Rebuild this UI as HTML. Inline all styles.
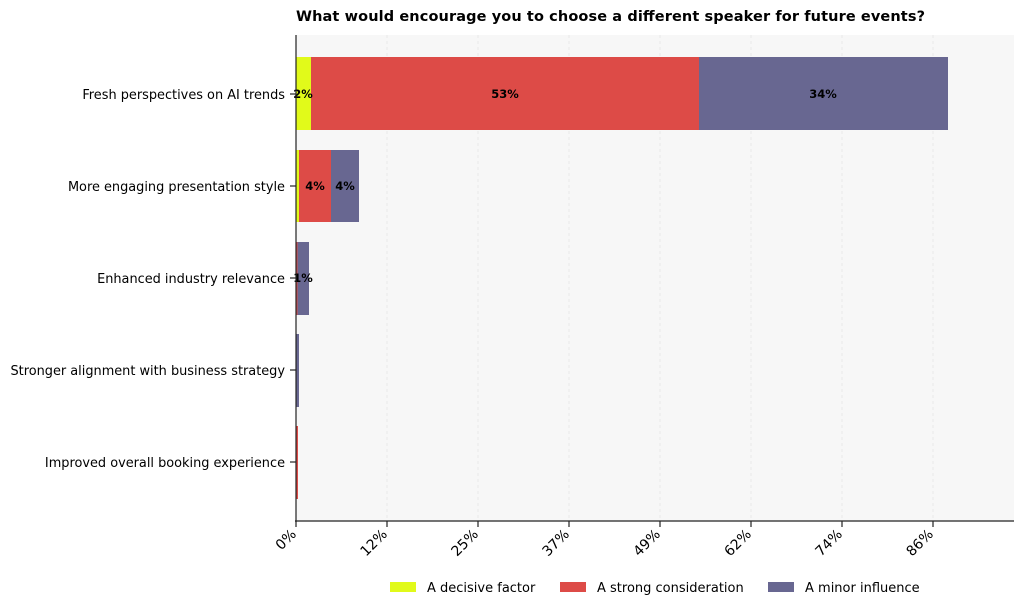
<!DOCTYPE html>
<html><head><meta charset="utf-8"><style>body{margin:0;background:#fff}</style></head><body>
<svg width="1024" height="610" xmlns="http://www.w3.org/2000/svg" font-family="DejaVu Sans, Liberation Sans, sans-serif">
<rect x="296" y="35" width="718" height="486" fill="#f7f7f7"/>
<g stroke="#e4e4e4" stroke-dasharray="3,3" stroke-width="0.8">
<line x1="387" y1="35" x2="387" y2="521"/><line x1="478" y1="35" x2="478" y2="521"/><line x1="569" y1="35" x2="569" y2="521"/><line x1="660" y1="35" x2="660" y2="521"/><line x1="751" y1="35" x2="751" y2="521"/><line x1="842" y1="35" x2="842" y2="521"/><line x1="933" y1="35" x2="933" y2="521"/>
</g>
<text x="296" y="21" font-size="14.5" font-weight="bold" textLength="629">What would encourage you to choose a different speaker for future events?</text>
<rect x="296" y="57" width="15" height="73" fill="#e1fa1a"/>
<rect x="311" y="57" width="388" height="73" fill="#dd4b47"/>
<rect x="699" y="57" width="249" height="73" fill="#686791"/>
<rect x="296" y="150" width="3" height="72" fill="#e1fa1a"/>
<rect x="299" y="150" width="32" height="72" fill="#dd4b47"/>
<rect x="331" y="150" width="28" height="72" fill="#686791"/>
<rect x="296" y="242" width="1.5" height="73" fill="#dd4b47"/>
<rect x="297.5" y="242" width="11.5" height="73" fill="#686791"/>
<rect x="296" y="334" width="3" height="73" fill="#686791"/>
<rect x="296" y="426" width="2" height="73" fill="#dd4b47"/>
<g font-size="11.5" font-weight="bold" text-anchor="middle">
<text x="303" y="98">2%</text><text x="505" y="98">53%</text><text x="823" y="98">34%</text>
<text x="315" y="190">4%</text><text x="345" y="190">4%</text><text x="303" y="282">1%</text>
</g>
<g stroke="#222" stroke-width="1.2"><line x1="296" y1="35" x2="296" y2="522"/><line x1="295" y1="521" x2="1014" y2="521"/>
<line x1="290" y1="94" x2="296" y2="94"/><line x1="290" y1="186" x2="296" y2="186"/><line x1="290" y1="278" x2="296" y2="278"/><line x1="290" y1="370" x2="296" y2="370"/><line x1="290" y1="462" x2="296" y2="462"/>
<line x1="296" y1="521" x2="296" y2="527"/><line x1="387" y1="521" x2="387" y2="527"/><line x1="478" y1="521" x2="478" y2="527"/><line x1="569" y1="521" x2="569" y2="527"/><line x1="660" y1="521" x2="660" y2="527"/><line x1="751" y1="521" x2="751" y2="527"/><line x1="842" y1="521" x2="842" y2="527"/><line x1="933" y1="521" x2="933" y2="527"/></g>
<g font-size="12.9" text-anchor="end">
<text x="285" y="99">Fresh perspectives on AI trends</text>
<text x="285" y="191">More engaging presentation style</text>
<text x="285" y="283">Enhanced industry relevance</text>
<text x="285" y="375">Stronger alignment with business strategy</text>
<text x="285" y="467">Improved overall booking experience</text>
</g>
<g font-size="14" text-anchor="end">
<text transform="translate(297,535) rotate(-45)">0%</text>
<text transform="translate(388,535) rotate(-45)">12%</text>
<text transform="translate(479,535) rotate(-45)">25%</text>
<text transform="translate(570,535) rotate(-45)">37%</text>
<text transform="translate(661,535) rotate(-45)">49%</text>
<text transform="translate(752,535) rotate(-45)">62%</text>
<text transform="translate(843,535) rotate(-45)">74%</text>
<text transform="translate(934,535) rotate(-45)">86%</text>
</g>
<rect x="390" y="582" width="26" height="10" fill="#e1fa1a"/>
<text x="427" y="592" font-size="13">A decisive factor</text>
<rect x="560" y="582" width="26" height="10" fill="#dd4b47"/>
<text x="597" y="592" font-size="13">A strong consideration</text>
<rect x="768" y="582" width="26" height="10" fill="#686791"/>
<text x="805" y="592" font-size="13">A minor influence</text>
</svg>
</body></html>
